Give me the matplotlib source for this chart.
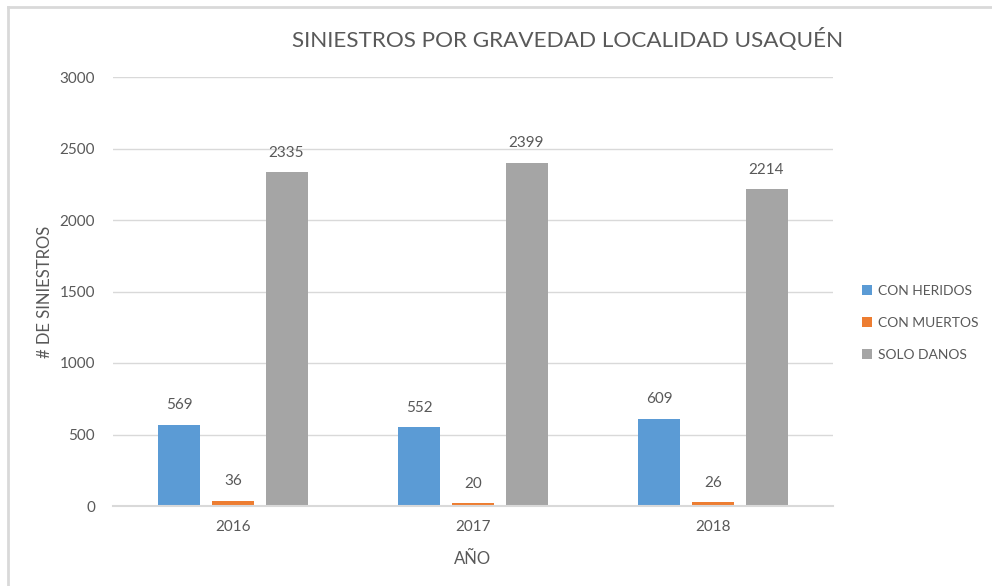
import matplotlib
matplotlib.use('Agg')
import matplotlib.pyplot as plt
import numpy as np
from matplotlib.lines import Line2D

years = ['2016', '2017', '2018']
con_heridos = [569, 552, 609]
con_muertos = [36, 20, 26]
solo_danos = [2335, 2399, 2214]
series_names = ['CON HERIDOS', 'CON MUERTOS', 'SOLO DANOS']
colors = ['#5B9BD5', '#ED7D31', '#A5A5A5']
y_ticks = [0, 500, 1000, 1500, 2000, 2500, 3000]

plt.rcParams['font.family'] = ['Lato', 'DejaVu Sans']
text_color = '#595959'

fig = plt.figure(figsize=(9.92, 5.86), dpi=100)
ax = fig.add_axes([113 / 992, 1 - 506 / 586, 720 / 992, 429 / 586])

x = np.arange(len(years))
width = 0.175
step = 0.223
for i, (vals, name, col) in enumerate(zip([con_heridos, con_muertos, solo_danos], series_names, colors)):
    bars = ax.bar(x + (i - 1) * step, vals, width, color=col, label=name, zorder=3)
    for b, v in zip(bars, vals):
        ax.annotate(str(v), (b.get_x() + b.get_width() / 2, v), xytext=(0, 9),
                    textcoords='offset points', ha='center', va='bottom',
                    fontsize=11, color=text_color)

ax.set_xlim(-0.5, 2.5)
ax.set_ylim(0, 3000)
ax.set_yticks(y_ticks)
ax.set_xticks(x)
ax.set_xticklabels(years)
ax.tick_params(axis='both', length=0, labelsize=11, labelcolor=text_color)
ax.tick_params(axis='y', pad=13)
ax.tick_params(axis='x', pad=10)
ax.yaxis.grid(True, color='#D9D9D9', linewidth=1, zorder=0)
for s in ['top', 'right', 'left']:
    ax.spines[s].set_visible(False)
ax.spines['bottom'].set_color('#D9D9D9')
ax.spines['bottom'].set_linewidth(1.5)
ax.spines['bottom'].set_zorder(4)

ax.set_xlabel('AÑO', fontsize=12, color=text_color, labelpad=12)
ax.set_ylabel('# DE SINIESTROS', fontsize=12, color=text_color, labelpad=5)

fig.text(568 / 992, 1 - 40 / 586, 'SINIESTROS POR GRAVEDAD LOCALIDAD USAQUÉN',
         ha='center', va='center', fontsize=16.2, color=text_color)

ax.legend(loc='center left', bbox_to_anchor=(849 / 992, 1 - 323 / 586),
          bbox_transform=fig.transFigure, frameon=False, fontsize=10,
          labelcolor=text_color, handlelength=0.75, handleheight=0.75,
          handletextpad=0.45, labelspacing=1.45)

# chart border (left and top edges visible)
fig.add_artist(Line2D([8 / 992, 8 / 992], [0, 1 - 7 / 586], transform=fig.transFigure,
                      color='#D9D9D9', linewidth=2))
fig.add_artist(Line2D([8 / 992, 1], [1 - 7 / 586, 1 - 7 / 586], transform=fig.transFigure,
                      color='#D9D9D9', linewidth=2))

fig.savefig('out.png', dpi=100, facecolor='white')
